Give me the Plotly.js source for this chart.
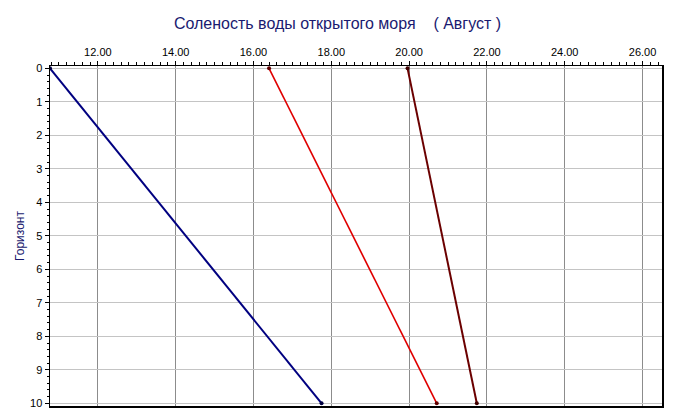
<!DOCTYPE html>
<html>
<head>
<meta charset="utf-8">
<script src="https://cdn.plot.ly/plotly-3.0.1.min.js"></script>
<style>html,body{margin:0;padding:0;background:#fff;}#chart{width:675px;height:419px;}</style>
</head>
<body>
<div id="chart"></div>
<script>
// Depth (horizon) values
const depths = [0, 10];
// Salinity series
const salinityBlue = [10.77, 17.75];
const salinityRed = [16.40, 20.71];
const salinityDark = [19.96, 21.74];

const seriesColors = ['#000080', '#e00000', '#6b0000'];
const markerColors = ['#000040', '#600000', '#400000'];
const seriesList = [salinityBlue, salinityRed, salinityDark];

const traces = seriesList.map((s, i) => ({
  x: s,
  y: depths,
  type: 'scatter',
  mode: 'lines+markers',
  line: {color: seriesColors[i], width: i === 1 ? 1.6 : 2},
  marker: {color: markerColors[i], size: 4},
  showlegend: false,
  hoverinfo: 'skip'
}));

const layout = {
  width: 675,
  height: 419,
  margin: {l: 50, r: 13, t: 66, b: 13},
  paper_bgcolor: '#ffffff',
  plot_bgcolor: '#ffffff',
  font: {family: '"Liberation Sans", Arial, sans-serif', size: 11, color: '#000000'},
  title: {
    text: 'Соленость воды открытого моря\u00a0\u00a0\u00a0\u00a0( Август )',
    font: {size: 16, color: '#1a1a70', family: '"Liberation Sans", Arial, sans-serif'},
    x: 0.5, xanchor: 'center', y: 0.945, yanchor: 'middle'
  },
  xaxis: {
    side: 'top',
    range: [10.77, 26.5],
    tick0: 0, dtick: 2,
    tickformat: '.2f',
    ticks: 'outside', ticklen: 4, tickcolor: '#000',
    showgrid: true, gridcolor: '#8c8c8c', gridwidth: 1,
    showline: true, linecolor: '#000', linewidth: 1.5, mirror: true,
    zeroline: false,
    minor: {dtick: 0.2, tick0: 0, ticks: 'outside', ticklen: 3, tickcolor: '#000', showgrid: false},
    fixedrange: true
  },
  yaxis: {
    range: [10.08, -0.07],
    tick0: 0, dtick: 1,
    ticks: 'outside', ticklen: 4, tickcolor: '#000',
    showgrid: true, gridcolor: '#c4c4c4', gridwidth: 1,
    showline: true, linecolor: '#000', linewidth: 1.5, mirror: true,
    zeroline: false,
    minor: {dtick: 0.2, tick0: 0, ticks: 'outside', ticklen: 2, tickcolor: '#000', showgrid: false},
    title: {text: 'Горизонт', font: {size: 12, color: '#1a1a70'}, standoff: 3},
    fixedrange: true
  }
};

Plotly.newPlot('chart', traces, layout, {displayModeBar: false, staticPlot: true});
</script>
</body>
</html>
